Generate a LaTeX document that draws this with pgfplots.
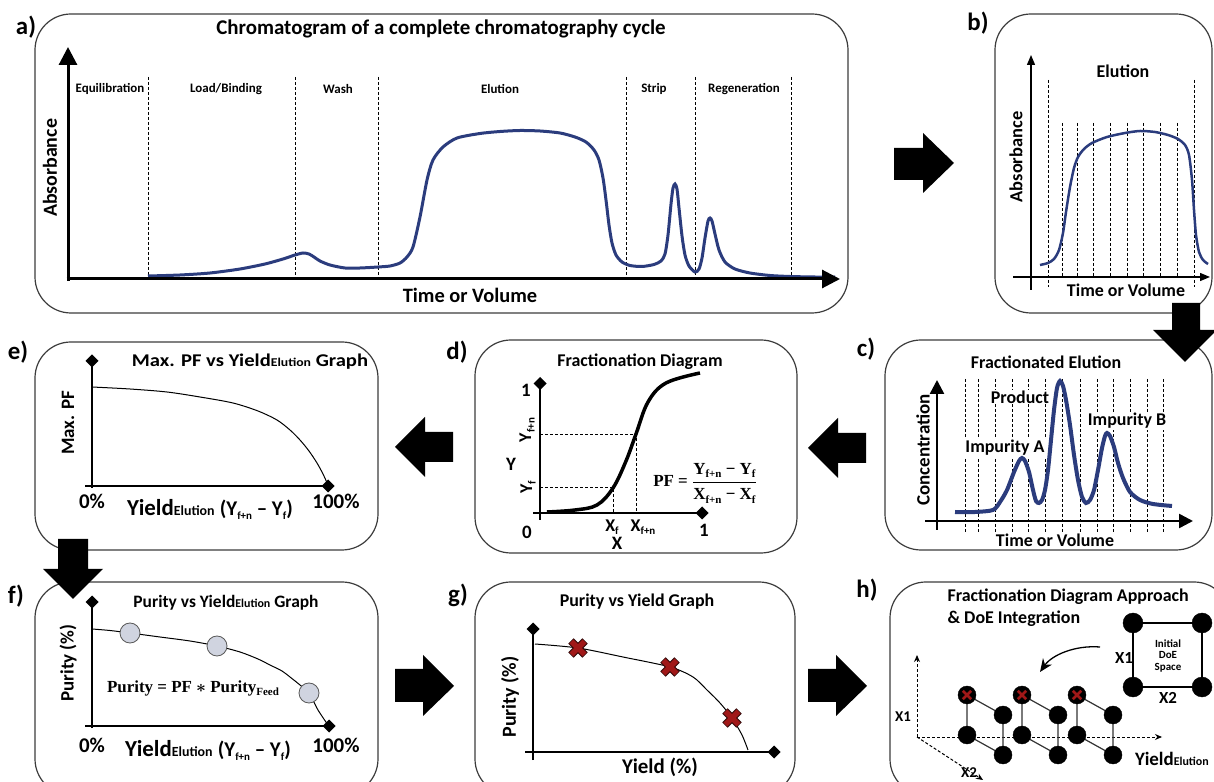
\documentclass[border=0pt]{standalone}
\usepackage{pgfplots}
\pgfplotsset{compat=1.18}
\usetikzlibrary{arrows.meta}
\usepackage{fontspec}
\setmainfont{Carlito}
\newfontfamily\cam{Liberation Serif}
\definecolor{navy}{RGB}{43,60,125}
\definecolor{boxgray}{RGB}{60,60,60}
\definecolor{dotfill}{RGB}{208,212,224}
\definecolor{xred}{RGB}{160,24,24}
\newcommand\fs[1]{\fontsize{#1}{#1}\selectfont}
\newcommand\sub[1]{\raisebox{-0.4ex}{\fs{11}#1}}
\pgfplotsset{panel/.style={scale only axis, axis lines=none, clip=false, y dir=reverse, anchor=north west, ticks=none}}
\tikzset{bx/.style={draw=boxgray, line width=1.2bp, rounded corners=36bp},
  dsh/.style={black, line width=0.9bp, dash pattern=on 3bp off 2bp},
  diam/.style={line width=2bp, -{Turned Square[length=13bp,width=13bp]}},
  blk/.style={fill=black}}
\begin{document}
\bfseries\boldmath
\begin{tikzpicture}
\begin{scope}[x=1bp,y=-1bp,yshift=782bp]
\fill[white] (0,0) rectangle (1214,782);
\path[use as bounding box] (0,0) rectangle (1214,782);
% boxes
\draw[bx] (35,14) rectangle (848,313);
\draw[bx] (995,14) rectangle (1212,313);
\draw[bx] (885,340) rectangle (1212,550);
\draw[bx] (475,340) rectangle (797,553);
\draw[bx] (35,342) rectangle (378,550);
\draw[bx] (35,582) rectangle (378,795);
\draw[bx] (475,582) rectangle (795,795);
\draw[bx] (890,582) rectangle (1230,795);
% panel letters
\node at (26,27) {\fs{25}a)};
\node at (978,23) {\fs{25}b)};
\node at (866,349) {\fs{25}c)};
\node at (457,352) {\fs{25}d)};
\node at (18,352) {\fs{25}e)};
\node at (16,596) {\fs{25}f)};
\node at (458,595) {\fs{25}g)};
\node at (867,590) {\fs{25}h)};
\end{scope}

% ---------------- panel a
\begin{axis}[panel, xmin=35,xmax=848,ymin=14,ymax=313,width=813bp,height=299bp,at={(35bp,768bp)}]
\pgfplotsinvokeforeach{148,295,378,626,695,791}{\addplot[dsh] coordinates {(#1,77) (#1,278)};}
\addplot[navy, line width=3bp, smooth, tension=0.45] coordinates {
(148,276) (180,275) (210,273) (240,269) (265,264) (283,259) (295,255) (303,253) (309,254) (314,257) (320,261) (330,265) (345,268) (360,268) (378,267) (390,266) (400,263) (407,257) (413,247) (420,217) (427,180) (433,160) (443,147) (457,138) (480,133.5) (500,131.5) (520,130.5) (540,131) (560,133) (575,137) (586,142) (594,150) (599,160) (603,178) (606,200) (609,225) (612,243) (616,255) (622,262) (630,265.5) (642,266.5) (654,264.5) (661,261) (665,254) (668,235) (671,204) (673,188) (675,184) (677,189) (679,208) (682,236) (685,255) (689,266) (695,272) (699,269) (702,258) (705,238) (708,221) (710,218) (712,221) (715,234) (719,250) (725,262) (735,269) (750,273) (770,275.5) (790,276.5) (815,277) (835,277)};
\addplot[line width=3bp, -{Triangle[length=18bp,width=18bp]}] coordinates {(68,281) (68,47)};
\addplot[line width=3bp, -{Triangle[length=18bp,width=18bp]}] coordinates {(66.5,279) (840,279)};
\node at (axis cs:441,29) {\fs{21}Chromatogram of a complete chromatography cycle};
\node at (axis cs:110,89) {\fs{13}Equilibration};
\node at (axis cs:226,89) {\fs{13}Load/Binding};
\node at (axis cs:338,89) {\fs{13}Wash};
\node at (axis cs:500,89) {\fs{13}Elution};
\node at (axis cs:654,89) {\fs{13}Strip};
\node at (axis cs:744,89) {\fs{13}Regeneration};
\node[rotate=90] at (axis cs:50,168) {\fs{20}Absorbance};
\node at (axis cs:470,295) {\fs{20.5}Time or Volume};
\end{axis}

% ---------------- panel b
\begin{axis}[panel, xmin=995,xmax=1212,ymin=14,ymax=313,width=217bp,height=299bp,at={(995bp,768bp)}]
\addplot[dsh] coordinates {(1048,80) (1048,287)};
\addplot[dsh] coordinates {(1194,80) (1194,287)};
\pgfplotsinvokeforeach{1062,1077,1093,1110,1127,1143,1160,1177}{\addplot[dsh] coordinates {(#1,123) (#1,277)};}
\addplot[navy, line width=2.5bp, smooth, tension=0.45] coordinates {
(1040,265) (1048,263) (1054,259) (1059,250) (1063,233) (1066,212) (1070,187) (1074,168) (1078,157) (1084,149) (1092,143) (1107,137) (1125,133) (1140,131) (1155,132) (1168,135) (1178,139) (1185,145) (1189,155) (1192,180) (1194,210) (1196,235) (1199,252) (1203,260) (1208,264)};
\addplot[line width=1.3bp, -{Triangle[length=10bp,width=8bp]}] coordinates {(1031,290) (1031,55)};
\addplot[line width=1.3bp, -{Triangle[length=10bp,width=8bp]}] coordinates {(1013,277) (1210,277)};
\node at (axis cs:1123,71) {\fs{18}Elution};
\node[rotate=90] at (axis cs:1016,157) {\fs{18.5}Absorbance};
\node at (axis cs:1126,290) {\fs{18}Time or Volume};
\end{axis}

% ---------------- panel c
\begin{axis}[panel, xmin=885,xmax=1212,ymin=340,ymax=550,width=327bp,height=210bp,at={(885bp,442bp)}]
\pgfplotsinvokeforeach{965,978,995,1012,1028,1045,1062,1080,1097,1113,1130,1147,1163}{\addplot[dsh] coordinates {(#1,379) (#1,533)};}
\node[fill=white,inner sep=1bp] at (axis cs:1020,397) {\fs{18}Product};
\node[fill=white,inner sep=1bp] at (axis cs:1005,448) {\fs{18}Impurity A};
\node[fill=white,inner sep=1bp] at (axis cs:1127,421) {\fs{18}Impurity B};
\addplot[navy, line width=4bp, smooth, tension=0.45] coordinates {
(955,512) (975,512) (993,510) (1000,502) (1007,490) (1014,472) (1019,461) (1022,458) (1025,461) (1029,472) (1033,490) (1036,501) (1039,503) (1042,500) (1045,490) (1048,470) (1051,440) (1054,410) (1057,388) (1060,381) (1063,386) (1066,400) (1070,425) (1074,455) (1078,480) (1082,497) (1086,503) (1090,500) (1094,490) (1098,470) (1102,448) (1105,436) (1107,433) (1110,436) (1114,447) (1118,463) (1123,478) (1130,492) (1140,500) (1153,504) (1172,506)};
\addplot[line width=2.5bp, -{Triangle[length=14bp,width=14bp]}] coordinates {(937,530) (937,380)};
\addplot[line width=2.5bp, -{Triangle[length=14bp,width=14bp]}] coordinates {(925,521) (1193,521)};
\node at (axis cs:1046,362) {\fs{18}Fractionated Elution};
\node[rotate=90] at (axis cs:923,450) {\fs{19}Concentration};
\node at (axis cs:1055,540) {\fs{18}Time or Volume};
\end{axis}

% ---------------- panel d
\begin{axis}[panel, xmin=475,xmax=797,ymin=340,ymax=553,width=322bp,height=213bp,at={(475bp,442bp)}]
\addplot[dsh] coordinates {(540,434) (636,434) (636,513)};
\addplot[dsh] coordinates {(540,487) (613,487) (613,513)};
\addplot[black, line width=3.5bp, smooth, tension=0.6] coordinates {
(547,512) (575,510) (597,505) (613,488) (626,461) (636,434) (648,402) (666,383) (700,373)};
\addplot[diam] coordinates {(540,520) (540,377)};
\addplot[diam] coordinates {(533,513) (708.5,513)};
\node at (axis cs:640,362) {\fs{18}Fractionation Diagram};
\node at (axis cs:526,390) {\fs{19}1};
\node at (axis cs:527,532) {\fs{19}0};
\node at (axis cs:704,530) {\fs{19}1};
\node at (axis cs:511,464) {\fs{19}Y};
\node at (axis cs:617,543) {\fs{19}X};
\node[rotate=90] at (axis cs:527,430) {\fs{18}Y\sub{f+n}};
\node[rotate=90] at (axis cs:528,487) {\fs{18}Y\sub{f}};
\node at (axis cs:612,527) {\fs{18}X\sub{f}};
\node at (axis cs:643,527) {\fs{18}X\sub{f+n}};
\node at (axis cs:705,483) {\fs{17}\cam PF = $\displaystyle\frac{\hbox{\cam Y\sub{f+n} − Y\sub{f}}}{\hbox{\cam X\sub{f+n} − X\sub{f}}}$};
\end{axis}

% ---------------- panel e
\begin{axis}[panel, xmin=35,xmax=378,ymin=342,ymax=550,width=343bp,height=208bp,at={(35bp,440bp)}]
\addplot[black, line width=1bp, smooth, tension=0.5] coordinates {
(92,387) (130,389) (167,392) (200,397) (233,403) (258,411) (277,420) (290,430) (300,440) (309,451) (317,463) (323,474) (328,485)};
\addplot[diam] coordinates {(92,488) (92,354.5)};
\addplot[diam] coordinates {(85,486) (334.5,486)};
\node at (axis cs:250,362) {\scalebox{1.15}[1]{\fs{18}Max. PF vs Yield{\fs{12}Elution} Graph}};
\node[rotate=90] at (axis cs:68,423) {\fs{19}Max. PF};
\node at (axis cs:92,501) {\fs{21}0\%};
\node at (axis cs:336,501) {\fs{21}100\%};
\node at (axis cs:210,509) {\fs{23}Yield{\fs{14}Elution} {\fs{21}(Y\sub{f+n} -- Y\sub{f})}};
\end{axis}

% ---------------- panel f
\begin{axis}[panel, xmin=35,xmax=378,ymin=582,ymax=792,width=343bp,height=210bp,at={(35bp,200bp)}]
\addplot[black, line width=1bp, smooth, tension=0.5] coordinates {
(92,629) (110,630.5) (130,633) (160,637) (190,641) (217,646) (240,652) (258,659) (270,665) (282,671) (290,677) (300,685) (309,693) (318,710) (328,725)};
\addplot[only marks, mark=*, mark size=10bp, mark options={fill=dotfill, draw=gray!70!black, line width=0.8bp}] coordinates {(130,633) (217,646) (309,693)};
\addplot[diam] coordinates {(92,728) (92,595.5)};
\addplot[diam] coordinates {(85,726) (335.5,726)};
\node at (axis cs:226,603) {\fs{17.5}Purity vs Yield{\fs{12}Elution} Graph};
\node[rotate=90] at (axis cs:68,663) {\fs{19}Purity (\%)};
\node at (axis cs:193,688) {\fs{17}\cam Purity = PF $\ast$ Purity\sub{Feed}};
\node at (axis cs:92,745) {\fs{21}0\%};
\node at (axis cs:336,745) {\fs{21}100\%};
\node at (axis cs:208,750) {\fs{23}Yield{\fs{14}Elution} {\fs{21}(Y\sub{f+n} -- Y\sub{f})}};
\end{axis}

% ---------------- panel g
\begin{axis}[panel, xmin=475,xmax=795,ymin=582,ymax=792,width=320bp,height=210bp,at={(475bp,200bp)}]
\addplot[black, line width=1bp, smooth, tension=0.5] coordinates {
(535,644) (578,648) (623,657) (670,667) (693,677) (707,690) (720,703) (732,718) (742,735) (748,750)};
\addplot[only marks, mark=x, mark size=10bp, mark options={line width=7.5bp, draw=black!70!xred}] coordinates {(578,648) (670,667) (732,718)};
\addplot[only marks, mark=x, mark size=9.3bp, mark options={line width=5.5bp, draw=xred}] coordinates {(578,648) (670,667) (732,718)};
\addplot[diam] coordinates {(533,760) (533,622.5)};
\addplot[diam] coordinates {(525,752) (780.5,752)};
\node at (axis cs:637,602) {\fs{18}Purity vs Yield Graph};
\node[rotate=90] at (axis cs:510,697) {\fs{20}Purity (\%)};
\node at (axis cs:660,767) {\fs{21}Yield (\%)};
\end{axis}

% ---------------- panel h
\begin{axis}[panel, xmin=890,xmax=1225,ymin=582,ymax=792,width=335bp,height=210bp,at={(890bp,200bp)}]
\addplot[line width=1bp, dash pattern=on 3bp off 2bp, -{Stealth[length=7bp,width=6bp]}] coordinates {(917,737) (917,655)};
\addplot[line width=1bp, dash pattern=on 3bp off 2bp, -{Stealth[length=7bp,width=6bp]}] coordinates {(917,737) (1162,737)};
\addplot[line width=1bp, dash pattern=on 3bp off 2bp, -{Stealth[length=7bp,width=6bp]}] coordinates {(917,737) (983,780)};
\pgfplotsinvokeforeach{0,55,110}{
\addplot[black!80, line width=1.2bp] coordinates {(967+#1,735) (967+#1,695) (1003+#1,715) (1003+#1,755) (967+#1,735)};}
\addplot[only marks, mark=*, mark size=9bp, black] coordinates {(967,695) (967,735) (1003,715) (1003,755) (1022,695) (1022,735) (1058,715) (1058,755) (1077,695) (1077,735) (1113,715) (1113,755)};
\addplot[only marks, mark=x, mark size=6bp, mark options={line width=2.6bp, draw=xred}] coordinates {(967,695) (1022,695) (1077,695)};
\addplot[black, line width=1.5bp] coordinates {(1133,623) (1202,623) (1202,687) (1133,687) (1133,623)};
\addplot[only marks, mark=*, mark size=10bp, black] coordinates {(1133,623) (1202,623) (1133,687) (1202,687)};
\draw[line width=1.3bp, -{Stealth[length=13bp,width=11bp]}] (axis cs:1100,647) .. controls (axis cs:1075,645) and (axis cs:1052,655) .. (axis cs:1040,672);
\node[anchor=west] at (axis cs:944,597) {\fs{18}Fractionation Diagram Approach};
\node[anchor=west] at (axis cs:944,619) {\fs{18}\& DoE Integration};
\node[align=center, font=\fs{11}\bfseries] at (axis cs:1168,656) {Initial\\[1bp]DoE\\[1bp]Space};
\node at (axis cs:1124,658) {\fs{17}X1};
\node at (axis cs:1168,698) {\fs{17}X2};
\node at (axis cs:903,717) {\fs{15}X1};
\node at (axis cs:969,773) {\fs{15}X2};
\node at (axis cs:1172,759) {\fs{19}Yield{\fs{12}Elution}};
\end{axis}

\begin{scope}[x=1bp,y=-1bp,yshift=782bp]
% block arrows
\fill[blk] (894,148) -- (923,148) -- (923,133) -- (954,163) -- (923,193) -- (923,180) -- (894,180) -- cycle;
\fill[blk] (1172,303) -- (1200,303) -- (1200,330) -- (1217,330) -- (1185,362) -- (1153,330) -- (1172,330) -- cycle;
\fill[blk] (808,448) -- (838,418) -- (838,433) -- (866,433) -- (866,463) -- (838,463) -- (838,478) -- cycle;
\fill[blk] (395,447) -- (425,417) -- (425,432) -- (453,432) -- (453,462) -- (425,462) -- (425,477) -- cycle;
\fill[blk] (58,539) -- (88,539) -- (88,569) -- (103,569) -- (73,599) -- (43,569) -- (58,569) -- cycle;
\fill[blk] (395,669) -- (423,669) -- (423,655) -- (454,686) -- (423,716) -- (423,702) -- (395,702) -- cycle;
\fill[blk] (808,669) -- (836,669) -- (836,655) -- (867,686) -- (836,716) -- (836,702) -- (808,702) -- cycle;
\end{scope}
\pgfresetboundingbox
\path[use as bounding box] (0,0) rectangle (1214bp,782bp);
\end{tikzpicture}
\end{document}
